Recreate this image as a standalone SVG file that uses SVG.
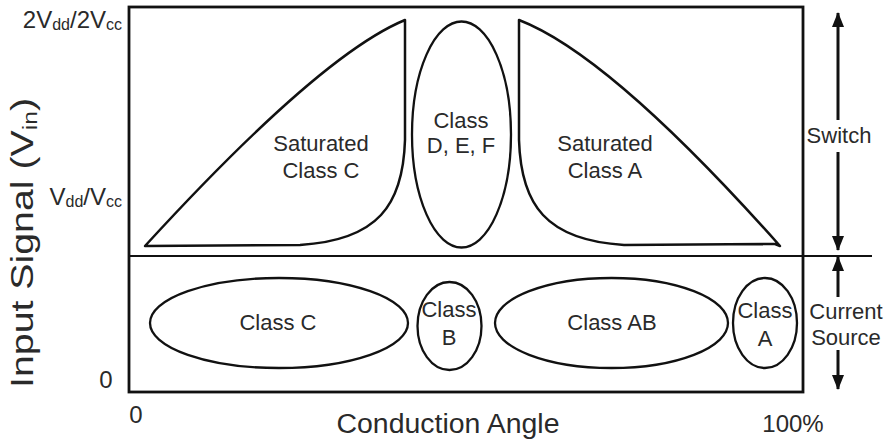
<svg xmlns="http://www.w3.org/2000/svg" width="892" height="441" viewBox="0 0 892 441">
<style>
text{font-family:"Liberation Sans",Arial,sans-serif;fill:#2a2a2a}
.lab{font-size:22px;text-anchor:middle}
.ax{font-size:24px}
.shape{fill:none;stroke:#111;stroke-width:2.5;stroke-linejoin:round}
.ell{fill:none;stroke:#111;stroke-width:2.3}
.frame{fill:none;stroke:#111;stroke-width:2.8}
.arr{stroke:#111;stroke-width:3;fill:none}
</style>
<defs>
<marker id="ah" viewBox="0 0 15 12" refX="14" refY="6" markerWidth="15" markerHeight="12" markerUnits="userSpaceOnUse" orient="auto-start-reverse">
<path d="M0,0 L15,6 L0,12 Z" fill="#111"/>
</marker>
</defs>
<rect fill="#fff" x="0" y="0" width="892" height="441"/>
<g id="frame">
<rect class="frame" x="129" y="7" width="674" height="385"/>
<line x1="129" y1="256" x2="872" y2="256" stroke="#111" stroke-width="1.8"/>
</g>
<g id="axis-labels">
<text class="ax" x="122" y="28" text-anchor="end" font-size="23">2V<tspan font-size="16" dy="2">dd</tspan><tspan dy="-2">/2V</tspan><tspan font-size="16" dy="2">cc</tspan></text>
<text class="ax" x="122" y="205" text-anchor="end" font-size="23">V<tspan font-size="16" dy="2">dd</tspan><tspan dy="-2">/V</tspan><tspan font-size="16" dy="2">cc</tspan></text>
<text x="106" y="388" font-size="24" text-anchor="middle">0</text>
<text x="136" y="423" font-size="24" text-anchor="middle">0</text>
<text x="448" y="433" font-size="27" text-anchor="middle" textLength="223" lengthAdjust="spacingAndGlyphs">Conduction Angle</text>
<text x="793" y="432" font-size="24" text-anchor="middle">100%</text>
<text transform="translate(33,243) rotate(-90)" font-size="32" text-anchor="middle" textLength="290" lengthAdjust="spacingAndGlyphs">Input Signal (V<tspan font-size="20" dy="4">in</tspan><tspan dy="-4">)</tspan></text>
</g>
<g id="sat-class-c">
<path class="shape" d="M145,246 Q320,55 405,20 L405,140 C403,205 378,240 300,245 Z"/>
<text class="lab" x="321" y="151">Saturated</text>
<text class="lab" x="321" y="178">Class C</text>
</g>
<g id="class-def">
<ellipse class="ell" cx="461.5" cy="134.5" rx="49.5" ry="113"/>
<text class="lab" x="461" y="128">Class</text>
<text class="lab" x="461" y="153">D, E, F</text>
</g>
<g id="sat-class-a">
<path class="shape" d="M780,246 Q610,55 519,20 L519,140 C521,205 546,240 624,245 L775,244 Z"/>
<text class="lab" x="605" y="151">Saturated</text>
<text class="lab" x="605" y="178">Class A</text>
</g>
<g id="class-c">
<ellipse class="ell" cx="279" cy="323" rx="129" ry="45"/>
<text class="lab" x="278" y="330">Class C</text>
</g>
<g id="class-b">
<ellipse class="ell" cx="449.5" cy="326" rx="32" ry="44"/>
<text class="lab" x="449" y="317" font-size="21">Class</text>
<text class="lab" x="449" y="345" font-size="21">B</text>
</g>
<g id="class-ab">
<ellipse class="ell" cx="611.5" cy="323" rx="116.5" ry="45"/>
<text class="lab" x="612" y="330">Class AB</text>
</g>
<g id="class-a">
<ellipse class="ell" cx="765" cy="323" rx="32" ry="45"/>
<text class="lab" x="765" y="318" font-size="21">Class</text>
<text class="lab" x="765" y="346" font-size="21">A</text>
</g>
<g id="switch">
<text class="lab" x="839" y="143" font-size="21">Switch</text>
</g>
<g id="current-source">
<text class="lab" x="846" y="319" font-size="21">Current</text>
<text class="lab" x="846" y="345" font-size="21">Source</text>
</g>
<g id="connectors">
<line class="arr" x1="838" y1="13" x2="838" y2="120" marker-start="url(#ah)"/>
<line class="arr" x1="838" y1="152" x2="838" y2="250" marker-end="url(#ah)"/>
<line class="arr" x1="838" y1="257" x2="838" y2="297" marker-start="url(#ah)"/>
<line class="arr" x1="838" y1="350" x2="838" y2="389" marker-end="url(#ah)"/>
</g>
</svg>
